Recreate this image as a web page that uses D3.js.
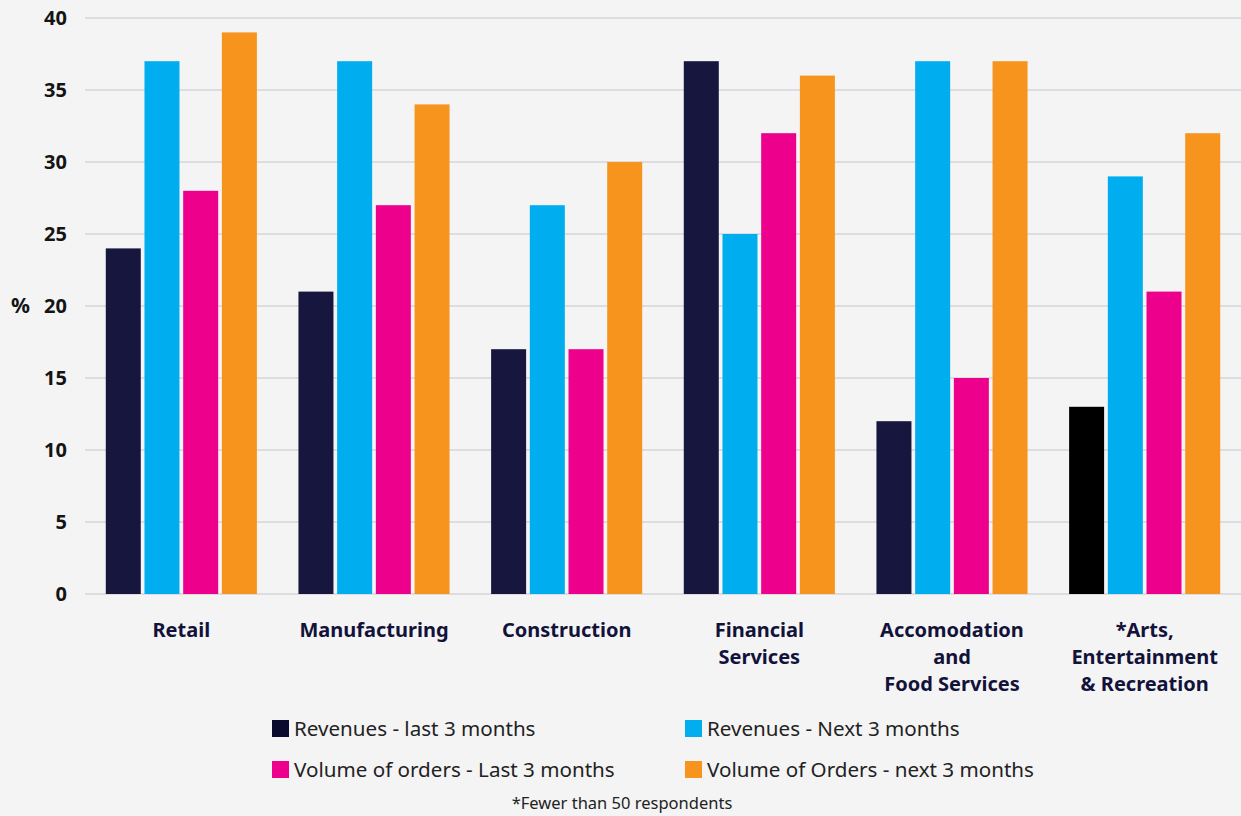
<!DOCTYPE html>
<html>
<head>
<meta charset="utf-8">
<script src="https://cdn.jsdelivr.net/npm/d3@7"></script>
<style>
  html, body { margin: 0; padding: 0; background: #f4f4f4; }
  svg { display: block; }
</style>
</head>
<body>
<svg id="chart" width="1241" height="816"></svg>
<script>
// Sectors shown along the x axis
const categories = [
  ["Retail"],
  ["Manufacturing"],
  ["Construction"],
  ["Financial", "Services"],
  ["Accomodation", "and", "Food Services"],
  ["*Arts,", "Entertainment", "& Recreation"]
];
const categoryKeys = categories.map(c => c.join(" "));

// Series (legend order)
const seriesNames = [
  "Revenues - last 3 months",
  "Revenues - Next 3 months",
  "Volume of orders - Last 3 months",
  "Volume of Orders - next 3 months"
];
const seriesColors = ["#16163f", "#00aeef", "#ec008c", "#f7941d"];

// Percentages per sector, one array per series
const revenuesLast = [24, 21, 17, 37, 12, 13];
const revenuesNext = [37, 37, 27, 25, 37, 29];
const ordersLast   = [28, 27, 17, 32, 15, 21];
const ordersNext   = [39, 34, 30, 36, 37, 32];
const seriesValues = [revenuesLast, revenuesNext, ordersLast, ordersNext];

const yTicks = [0, 5, 10, 15, 20, 25, 30, 35, 40];
const footnote = "*Fewer than 50 respondents";

(function draw() {
  const svg = d3.select("#chart");
  const plotLeft = 85, plotRight = 1241, plotTop = 18, plotBottom = 594;
  const font = "'Noto Sans', 'Open Sans', sans-serif";

  const x0 = d3.scaleBand().domain(categoryKeys).range([plotLeft, plotRight]).padding(0);
  const groupW = 151.1;
  const x1 = d3.scaleBand().domain(d3.range(seriesNames.length))
    .range([0, groupW]).paddingInner(0.0956).paddingOuter(0);
  const y = d3.scaleLinear().domain([0, 40]).range([plotBottom, plotTop]);

  // Gridlines
  svg.append("g")
    .selectAll("line")
    .data(yTicks)
    .join("line")
    .attr("x1", plotLeft).attr("x2", plotRight)
    .attr("y1", d => y(d)).attr("y2", d => y(d))
    .attr("stroke", "#c6c6cb")
    .attr("stroke-width", 1.2);

  // Y axis labels
  const yAxis = d3.axisLeft(y).tickValues(yTicks).tickSize(0).tickPadding(0);
  const yg = svg.append("g").attr("transform", "translate(67,0)").call(yAxis);
  yg.select(".domain").remove();
  yg.selectAll("text")
    .attr("font-family", font)
    .attr("font-weight", 700)
    .attr("font-size", 20)
    .attr("fill", "#141414");

  svg.append("text")
    .attr("x", 11).attr("y", y(20))
    .attr("dy", "0.32em")
    .attr("font-family", font)
    .attr("font-weight", 700)
    .attr("font-size", 21)
    .attr("fill", "#141414")
    .text("%");

  // Bars
  const bars = [];
  categoryKeys.forEach((cat, ci) => {
    seriesValues.forEach((vals, si) => {
      bars.push({ cat, ci, si, value: vals[ci] });
    });
  });
  const groupOffset = (x0.bandwidth() - groupW) / 2;

  svg.append("g")
    .selectAll("rect")
    .data(bars)
    .join("rect")
    .attr("x", d => x0(d.cat) + groupOffset + x1(d.si))
    .attr("width", x1.bandwidth())
    .attr("y", d => y(d.value))
    .attr("height", d => y(0) - y(d.value))
    // sectors marked with * (small sample) show the first series in black
    .attr("fill", d => (d.si === 0 && d.cat.startsWith("*")) ? "#000000" : seriesColors[d.si]);

  // Category labels
  const catG = svg.append("g");
  categories.forEach((lines, ci) => {
    const cx = x0(categoryKeys[ci]) + x0.bandwidth() / 2;
    const t = catG.append("text")
      .attr("x", cx)
      .attr("y", 637)
      .attr("text-anchor", "middle")
      .attr("font-family", font)
      .attr("font-weight", 700)
      .attr("font-size", 20)
      .attr("fill", "#12123a");
    lines.forEach((ln, li) => {
      t.append("tspan")
        .attr("x", cx)
        .attr("dy", li === 0 ? 0 : 27)
        .text(ln);
    });
  });

  // Legend
  const legendPos = [[272, 720], [685, 720], [272, 761], [685, 761]];
  const lg = svg.append("g");
  seriesNames.forEach((name, i) => {
    const [lx, ly] = legendPos[i];
    lg.append("rect")
      .attr("x", lx).attr("y", ly)
      .attr("width", 17).attr("height", 17)
      .attr("fill", i === 0 ? "#0a0a2e" : seriesColors[i]);
    lg.append("text")
      .attr("x", lx + 22).attr("y", ly + 9)
      .attr("dy", "0.35em")
      .attr("font-family", font)
      .attr("font-size", 20.6)
      .attr("fill", "#222222")
      .text(name);
  });

  svg.append("text")
    .attr("x", 622).attr("y", 803)
    .attr("dy", "0.35em")
    .attr("text-anchor", "middle")
    .attr("font-family", font)
    .attr("font-size", 16.5)
    .attr("fill", "#222222")
    .text(footnote);
})();
</script>
</body>
</html>
